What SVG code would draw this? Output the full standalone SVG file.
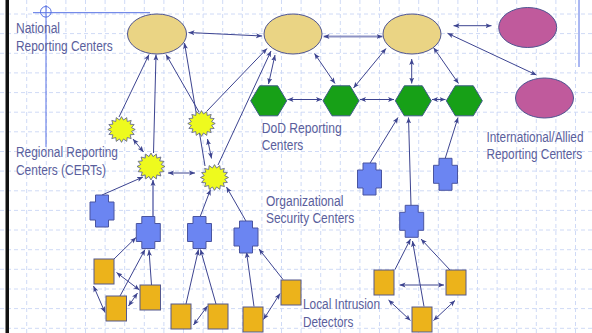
<svg xmlns="http://www.w3.org/2000/svg" width="592" height="333" viewBox="0 0 592 333">
  <style>
    .grid { fill: none; stroke: #cfdaf6; stroke-width: 1; stroke-dasharray: 4 3; }
    .guide { fill: none; stroke: #5670e4; stroke-width: 1; }
    .lbl { font-family: "Liberation Sans", Arial, sans-serif; font-size: 14px; fill: #5a5e9c; }
    .nat { fill: #ead484; stroke: #4f5592; stroke-width: 1; }
    .ally { fill: #c05a9c; stroke: #4f5592; stroke-width: 1; }
    .dod { fill: #17a017; stroke: #3c5a86; stroke-width: 1; }
    .cert { fill: #eefa1e; stroke: #4f5592; stroke-width: 0.8; }
    .org { fill: #6b85f2; stroke: #4a55a0; stroke-width: 1; }
    .ids { fill: #ecb31b; stroke: #55598e; stroke-width: 1; }
    .link { fill: none; stroke: #3d4490; stroke-width: 1; marker-end: url(#ah); }
    .both { marker-start: url(#ah); }
    .soft { stroke: #8e93c4; stroke-width: 2; }
  </style>
  <defs>
    <marker id="ah" viewBox="0 0 6 6" refX="6" refY="3" markerWidth="6" markerHeight="6" markerUnits="userSpaceOnUse" orient="auto-start-reverse">
      <path d="M0,0.5 L6,3 L0,5.5 L1.5,3 Z" fill="#3d4490"/>
    </marker>
    <polygon id="star" points="14,0 10.3,2.05 12.93,5.36 8.73,5.83 9.9,9.9 5.83,8.73 5.36,12.93 2.05,10.3 0,14 -2.05,10.3 -5.36,12.93 -5.83,8.73 -9.9,9.9 -8.73,5.83 -12.93,5.36 -10.3,2.05 -14,0 -10.3,-2.05 -12.93,-5.36 -8.73,-5.83 -9.9,-9.9 -5.83,-8.73 -5.36,-12.93 -2.05,-10.3 0,-14 2.05,-10.3 5.36,-12.93 5.83,-8.73 9.9,-9.9 8.73,-5.83 12.93,-5.36 10.3,-2.05"/>
    <path id="cross" d="M-6.5,-16 H6.5 V-9 H12 V9 H6.5 V16 H-6.5 V9 H-12 V-9 H-6.5 Z"/>
    <path id="hex" d="M-18,0 L-9,-15 L9,-15 L18,0 L9,15 L-9,15 Z"/>
  </defs>

  <!-- page background and dashed grid -->
  <rect width="592" height="333" fill="#ffffff"/>
  <path class="grid" d="M26.7 0V333 M46.3 0V333 M65.9 0V333 M85.5 0V333 M105.1 0V333 M124.7 0V333 M144.3 0V333 M163.9 0V333 M183.5 0V333 M203.1 0V333 M222.7 0V333 M242.3 0V333 M261.9 0V333 M281.5 0V333 M301.1 0V333 M320.7 0V333 M340.3 0V333 M359.9 0V333 M379.5 0V333 M399.1 0V333 M418.7 0V333 M438.3 0V333 M457.9 0V333 M477.5 0V333 M497.1 0V333 M516.7 0V333 M536.3 0V333 M555.9 0V333 M575.5 0V333
    M0 14H592 M0 33.6H592 M0 53.3H592 M0 72.9H592 M0 92.6H592 M0 112.2H592 M0 131.8H592 M0 151.5H592 M0 171.1H592 M0 190.8H592 M0 210.4H592 M0 230H592 M0 249.7H592 M0 269.3H592 M0 289H592 M0 308.6H592 M0 328.3H592"/>
  <rect x="5.5" y="0" width="3.5" height="333" fill="#111111"/>

  <!-- corner guides -->
  <g id="guides">
    <path class="guide" d="M33 12.7H150 M46 5V147 M579 0V67"/>
    <circle class="guide" cx="45.8" cy="11.8" r="5.3"/>
  </g>

  <!-- connectors -->
  <g id="connectors">
    <path class="link" d="M119,117 L149,54.5"/>
    <path class="link" d="M153.5,153 L156,54.5"/>
    <path class="link" d="M199,112 L166,54.5"/>
    <path class="link" d="M205,166 L184.5,43"/>
    <path class="link" d="M207,111 L267,48.5"/>
    <path class="link" d="M218,165 L271,51"/>
    <path class="link" d="M102,195 L143,177"/>
    <path class="link soft" d="M153,217 L153,180"/>
    <path class="link" d="M200,217 L210.5,189.5"/>
    <path class="link" d="M246.5,222 L226.5,187"/>
    <path class="link" d="M114,259 L136,237.5"/>
    <path class="link" d="M120,296 L145,249.5"/>
    <path class="link" d="M151.5,285 L149,250"/>
    <path class="link" d="M186,304 L198.5,249.5"/>
    <path class="link" d="M216,304 L200.5,249.5"/>
    <path class="link" d="M254,306.5 L246.5,252"/>
    <path class="link" d="M283,279.5 L259,249"/>
    <path class="link" d="M369.5,164 L398,117.5"/>
    <path class="link" d="M411,206 L408.5,117.5"/>
    <path class="link" d="M445,159 L458,117.5"/>
    <path class="link" d="M395,269.5 L410.5,239"/>
    <path class="link" d="M424,306.5 L412.5,241"/>
    <path class="link" d="M450,270 L421,239"/>

    <path class="link both" d="M188.5,32.5 L262,36"/>
    <path class="link both soft" d="M323.5,36.5 L382.5,36.5"/>
    <path class="link both" d="M275,55 L268.5,84"/>
    <path class="link both" d="M314.5,53.5 L335,83.5"/>
    <path class="link both" d="M386,48.5 L353.5,88"/>
    <path class="link both" d="M287.5,99.5 L322,99.5"/>
    <path class="link both" d="M360,99.5 L394,99.5"/>
    <path class="link both" d="M432,99.5 L445.5,99.5"/>
    <path class="link both" d="M411.7,59 L411.7,83.5"/>
    <path class="link both" d="M433.5,47.5 L458.5,83.5"/>
    <path class="link both" d="M453.5,25.7 L491.5,25.7"/>
    <path class="link both" d="M447.5,33.3 L536.5,75"/>
    <path class="link both" d="M207.5,139 L211.5,158.5"/>
    <path class="link both" d="M133,139 L143.5,152"/>
    <path class="link both" d="M168,173 L195,173"/>
    <path class="link both" d="M116.5,272.5 L139.5,290"/>
    <path class="link both" d="M93.5,286 L105,312.5"/>
    <path class="link both" d="M128.5,306 L137.5,293"/>
    <path class="link both" d="M193.5,325 L207.5,306"/>
    <path class="link both" d="M263.5,319.5 L280,293.5"/>
    <path class="link both" d="M399.5,285 L444,285"/>
    <path class="link both" d="M388.5,300 L410.5,320.5"/>
    <path class="link both" d="M433.5,320.5 L455,300.5"/>
  </g>

  <!-- national reporting centers -->
  <g id="national-1"><ellipse class="nat" cx="157" cy="34" rx="29.5" ry="20"/></g>
  <g id="national-2"><ellipse class="nat" cx="293" cy="34" rx="29" ry="20"/></g>
  <g id="national-3"><ellipse class="nat" cx="412" cy="34" rx="29" ry="20"/></g>

  <!-- international / allied -->
  <g id="allied-1"><ellipse class="ally" cx="527.7" cy="27.5" rx="29" ry="20"/></g>
  <g id="allied-2"><ellipse class="ally" cx="544.5" cy="98" rx="29" ry="20"/></g>

  <!-- DoD reporting centers -->
  <g id="dod-1"><use href="#hex" class="dod" x="268.7" y="100.8"/></g>
  <g id="dod-2"><use href="#hex" class="dod" x="341" y="100.8"/></g>
  <g id="dod-3"><use href="#hex" class="dod" x="413.3" y="100.8"/></g>
  <g id="dod-4"><use href="#hex" class="dod" x="464.3" y="100.8"/></g>

  <!-- regional reporting centers (CERTs) -->
  <g id="cert-1"><use href="#star" class="cert" transform="translate(121.5 129.5) scale(0.98 0.92)"/></g>
  <g id="cert-2"><use href="#star" class="cert" transform="translate(151 166.5) scale(1 0.96)"/></g>
  <g id="cert-3"><use href="#star" class="cert" transform="translate(201.5 123.5) scale(0.98 0.92)"/></g>
  <g id="cert-4"><use href="#star" class="cert" transform="translate(214.5 177.5) scale(1 0.92)"/></g>

  <!-- organizational security centers -->
  <g id="org-1"><use href="#cross" class="org" x="102" y="211"/></g>
  <g id="org-2"><use href="#cross" class="org" x="148.3" y="232.5"/></g>
  <g id="org-3"><use href="#cross" class="org" x="199.5" y="232.5"/></g>
  <g id="org-4"><use href="#cross" class="org" x="246" y="237"/></g>
  <g id="org-5"><use href="#cross" class="org" x="369.5" y="179"/></g>
  <g id="org-6"><use href="#cross" class="org" x="445.5" y="174.3"/></g>
  <g id="org-7"><use href="#cross" class="org" x="411.7" y="221.3"/></g>

  <!-- local intrusion detectors -->
  <g id="ids-1"><rect class="ids" x="94" y="259" width="20" height="25"/></g>
  <g id="ids-2"><rect class="ids" x="106" y="296" width="20.5" height="25"/></g>
  <g id="ids-3"><rect class="ids" x="140" y="285" width="20.5" height="25"/></g>
  <g id="ids-4"><rect class="ids" x="171" y="304" width="20" height="25"/></g>
  <g id="ids-5"><rect class="ids" x="208" y="304" width="20" height="25"/></g>
  <g id="ids-6"><rect class="ids" x="243" y="307" width="20" height="25"/></g>
  <g id="ids-7"><rect class="ids" x="281" y="280" width="20" height="25"/></g>
  <g id="ids-8"><rect class="ids" x="374" y="270" width="20" height="25"/></g>
  <g id="ids-9"><rect class="ids" x="446" y="270" width="20" height="25"/></g>
  <g id="ids-10"><rect class="ids" x="412" y="307" width="20" height="25"/></g>

  <!-- labels -->
  <g id="labels">
    <text class="lbl" x="16" y="33" textLength="44" lengthAdjust="spacingAndGlyphs">National</text>
    <text class="lbl" x="16" y="51" textLength="96.7" lengthAdjust="spacingAndGlyphs">Reporting Centers</text>
    <text class="lbl" x="16" y="157" textLength="102" lengthAdjust="spacingAndGlyphs">Regional Reporting</text>
    <text class="lbl" x="16" y="174.5" textLength="90" lengthAdjust="spacingAndGlyphs">Centers (CERTs)</text>
    <text class="lbl" x="261.7" y="133" textLength="80" lengthAdjust="spacingAndGlyphs">DoD Reporting</text>
    <text class="lbl" x="261.7" y="149.5" textLength="41.6" lengthAdjust="spacingAndGlyphs">Centers</text>
    <text class="lbl" transform="translate(486.5 142) scale(0.842 1)">International/Allied</text>
    <text class="lbl" transform="translate(486.5 158.5) scale(0.842 1)">Reporting Centers</text>
    <text class="lbl" x="266" y="205.5" textLength="77.3" lengthAdjust="spacingAndGlyphs">Organizational</text>
    <text class="lbl" x="266" y="222.7" textLength="88.3" lengthAdjust="spacingAndGlyphs">Security Centers</text>
    <text class="lbl" x="303" y="309.3" textLength="77" lengthAdjust="spacingAndGlyphs">Local Intrusion</text>
    <text class="lbl" x="303" y="326.7" textLength="50.3" lengthAdjust="spacingAndGlyphs">Detectors</text>
  </g>
</svg>
